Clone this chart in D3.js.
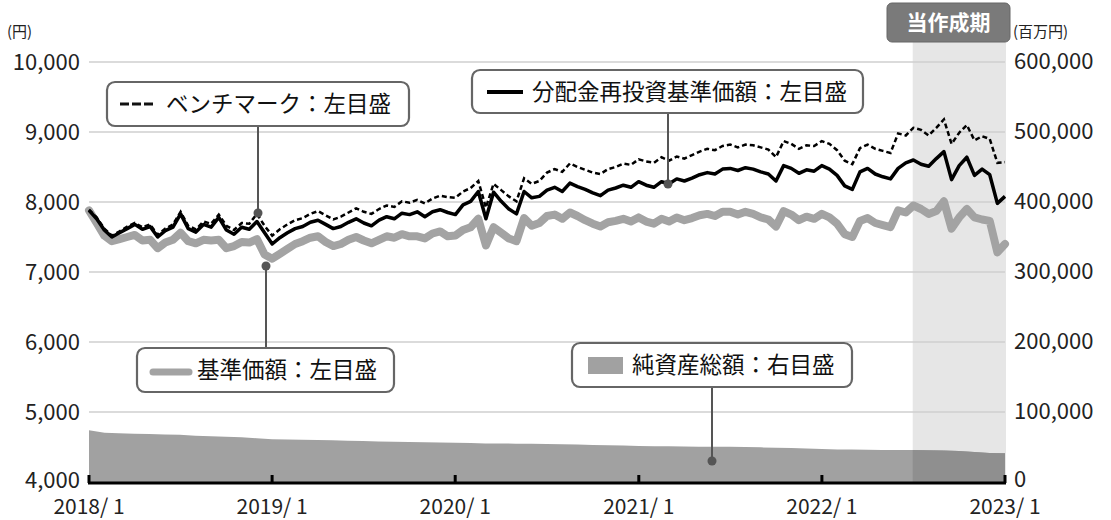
<!DOCTYPE html>
<html><head><meta charset="utf-8">
<script src="https://cdn.jsdelivr.net/npm/d3@7"></script>
<style>
body{margin:0;background:#fff;}
text{font-family:"Noto Sans CJK JP","Noto Sans",sans-serif;}
</style></head><body>
<svg id="c" width="1111" height="520"></svg>
<script>
// ---- data (semi-monthly points, 2018/1 .. 2023/1) ----
const navReinvested = [
7880,7760,7600,7500,7560,7620,7680,7610,7650,7500,7590,7640,7830,7620,7570,7680,7640,7780,7600,7540,7640,7610,7720,7560,7400,
7490,7560,7620,7650,7710,7740,7680,7620,7650,7710,7760,7700,7660,7740,7790,7760,7840,7820,7860,7790,7860,7890,7850,7820,
7960,8010,8150,7760,8140,8010,7900,7830,8150,8060,8080,8170,8210,8150,8270,8220,8180,8130,8090,8170,8200,8240,8210,8290,
8240,8210,8290,8260,8330,8300,8340,8390,8420,8400,8470,8480,8450,8490,8470,8430,8400,8300,8520,8480,8410,8460,8440,8520,
8470,8380,8230,8180,8430,8480,8400,8360,8330,8480,8560,8600,8540,8510,8620,8720,8320,8520,8640,8380,8470,8390,7980,8080];
const benchmark = [
7890,7780,7620,7520,7580,7650,7700,7640,7680,7530,7620,7680,7860,7660,7610,7720,7690,7820,7660,7600,7700,7690,7830,7660,7520,
7610,7680,7740,7770,7830,7870,7810,7750,7790,7850,7910,7860,7830,7900,7950,7930,8010,7990,8030,7980,8050,8090,8070,8060,
8150,8200,8300,7920,8260,8170,8080,8010,8340,8260,8300,8420,8470,8430,8550,8500,8460,8420,8400,8470,8500,8550,8530,8610,
8580,8560,8640,8590,8650,8620,8670,8720,8760,8740,8800,8820,8780,8820,8810,8780,8750,8640,8870,8830,8760,8810,8800,8870,
8830,8740,8590,8540,8770,8820,8760,8730,8700,8980,8950,9060,9030,8950,9060,9180,8830,8990,9100,8880,8940,8900,8560,8570];
const nav = [
7880,7700,7520,7440,7470,7500,7530,7450,7460,7340,7420,7460,7560,7440,7410,7460,7450,7460,7340,7370,7430,7420,7470,7250,7190,
7260,7330,7400,7440,7490,7510,7430,7370,7400,7460,7500,7450,7410,7460,7510,7490,7540,7510,7510,7480,7550,7580,7510,7520,
7600,7640,7760,7380,7640,7560,7480,7440,7770,7660,7700,7800,7820,7760,7850,7800,7740,7690,7650,7710,7730,7760,7720,7780,
7720,7690,7760,7720,7780,7740,7770,7810,7830,7800,7860,7860,7820,7860,7830,7780,7750,7650,7870,7820,7740,7790,7760,7830,
7780,7690,7540,7500,7730,7770,7700,7670,7640,7880,7850,7950,7900,7830,7870,8010,7620,7780,7900,7780,7750,7730,7280,7400];
// monthly net assets (百万円), 2018/1 .. 2023/1
const netAssets = [
74000,70500,69500,68800,68500,68000,67500,66000,65500,64500,63800,62500,
61000,60800,60300,60000,59500,59000,58500,58000,57600,57200,56800,56300,
56000,55700,55000,55000,54800,54600,54300,54000,53500,53000,52500,52000,
51500,51200,51000,50800,50500,50500,50300,50000,49500,49000,48500,47800,
47000,46600,46300,46000,45800,45800,45700,45500,45000,44300,43000,41500,41000];
const leftTicks = [4000,5000,6000,7000,8000,9000,10000];
const rightTicks = [0,100000,200000,300000,400000,500000,600000];
const xTickDates = ["2018-01-01","2019-01-01","2020-01-01","2021-01-01","2022-01-01","2023-01-01"];
const xTickLabels = ["2018/ 1","2019/ 1","2020/ 1","2021/ 1","2022/ 1","2023/ 1"];
const periodStart = "2022-07-01";
const periodLabel = "当作成期";

const svg = d3.select("#c");
const L = 89, R = 1005, T = 62, B = 482;
const t0 = new Date(2018,0,1), t1 = new Date(2023,0,1);
const x = d3.scaleTime().domain([t0,t1]).range([L,R]);
const yL = d3.scaleLinear().domain([4000,10000]).range([B,T]);
const yR = d3.scaleLinear().domain([0,600000]).range([B,T]);
const n = navReinvested.length;
const dateAt = i => new Date(t0.getTime() + (t1-t0)*i/(n-1));
const monthAt = i => d3.timeMonth.offset(t0,i);
const pd = s => d3.timeParse("%Y-%m-%d")(s);

// shaded period
const xs = x(pd(periodStart));
svg.append("rect").attr("x",xs).attr("y",42).attr("width",R-xs+1).attr("height",B-42).attr("fill","#e6e6e6");

// gridlines
svg.append("g").selectAll("line").data(leftTicks.slice(1)).join("line")
  .attr("x1",L).attr("x2",R).attr("y1",d=>yL(d)).attr("y2",d=>yL(d))
  .attr("stroke","#cfcfcf").attr("stroke-width",1.3);

// area
const area = d3.area().x((d,i)=>x(monthAt(i))).y0(yR(0)).y1(d=>yR(d));
svg.append("path").attr("d",area(netAssets)).attr("fill","#a1a1a1");
svg.append("clipPath").attr("id","pc").append("rect").attr("x",xs).attr("y",T).attr("width",R-xs+2).attr("height",B-T);
svg.append("path").attr("d",area(netAssets)).attr("fill","#8f8f8f").attr("clip-path","url(#pc)");

// lines
const line = ys => d3.line().x((d,i)=>x(dateAt(i))).y(d=>ys(d)).curve(d3.curveLinear);
svg.append("path").attr("d",line(yL)(nav)).attr("fill","none").attr("stroke","#a3a3a3").attr("stroke-width",8).attr("stroke-linejoin","round").attr("stroke-linecap","round");
svg.append("path").attr("d",line(yL)(navReinvested)).attr("fill","none").attr("stroke","#000").attr("stroke-width",3.5).attr("stroke-linejoin","round");
svg.append("path").attr("d",line(yL)(benchmark)).attr("fill","none").attr("stroke","#000").attr("stroke-width",2.5).attr("stroke-dasharray","5,3");

// axes
const axL = svg.append("g");
axL.selectAll("text").data(leftTicks).join("text")
  .attr("x",80).attr("y",d=>yL(d)+(d===4000?6:8)).attr("text-anchor","end").attr("font-size",22).attr("fill","#222")
  .text(d=>d3.format(",")(d));
const axR = svg.append("g");
axR.selectAll("text").data(rightTicks).join("text")
  .attr("x",1014).attr("y",d=>yR(d)+(d===0?5:7)).attr("text-anchor","start").attr("font-size",22).attr("fill","#222")
  .text(d=>d3.format(",")(d));
svg.append("text").attr("x",7).attr("y",37).attr("font-size",15).attr("fill","#222").text("(円)");
svg.append("text").attr("x",1013).attr("y",37).attr("font-size",15).attr("fill","#222").text("(百万円)");

const xg = svg.append("g");
xg.append("line").attr("x1",L-1).attr("x2",R+1).attr("y1",B+1).attr("y2",B+1).attr("stroke","#000").attr("stroke-width",3);
xg.selectAll("line.t").data(xTickDates).join("line").attr("class","t")
  .attr("x1",d=>x(pd(d))).attr("x2",d=>x(pd(d))).attr("y1",B-7).attr("y2",B+1).attr("stroke","#000").attr("stroke-width",3);
xg.selectAll("text").data(xTickLabels).join("text")
  .attr("x",(d,i)=>x(pd(xTickDates[i]))).attr("y",514).attr("text-anchor","middle").attr("font-size",21).attr("fill","#222").text(d=>d);

// period label
svg.append("rect").attr("x",887).attr("y",3).attr("width",123).attr("height",39).attr("rx",5).attr("fill","#7a7a7a").attr("stroke","#666");
svg.append("text").attr("x",948.5).attr("y",30).attr("text-anchor","middle").attr("font-size",21).attr("font-weight","bold").attr("fill","#fff").text(periodLabel);

// legends
const lg = svg.append("g");
function box(x0,y0,w,h){ lg.append("rect").attr("x",x0).attr("y",y0).attr("width",w).attr("height",h).attr("rx",8).attr("fill","#fff").attr("stroke","#666").attr("stroke-width",2.2); }
function leader(xx,y1,y2){
  lg.append("line").attr("x1",xx).attr("x2",xx).attr("y1",y1).attr("y2",y2).attr("stroke","#555").attr("stroke-width",2);
  lg.append("circle").attr("cx",xx).attr("cy",y2).attr("r",4.5).attr("fill","#555");
}
// benchmark
leader(258,126,213);
box(107,82,302,44);
lg.append("line").attr("x1",120).attr("x2",153).attr("y1",104).attr("y2",104).attr("stroke","#111").attr("stroke-width",3).attr("stroke-dasharray","9,3");
lg.append("text").attr("x",166).attr("y",112).attr("font-size",22.5).attr("fill","#111").text("ベンチマーク：左目盛");
// reinvested
leader(668,113,184);
box(472,70,391,43);
lg.append("line").attr("x1",487).attr("x2",523).attr("y1",92).attr("y2",92).attr("stroke","#000").attr("stroke-width",4);
lg.append("text").attr("x",532).attr("y",100).attr("font-size",22.5).attr("fill","#111").text("分配金再投資基準価額：左目盛");
// nav
leader(266,348,266);
box(137,348,257,44);
lg.append("line").attr("x1",153).attr("x2",189).attr("y1",372).attr("y2",372).attr("stroke","#a3a3a3").attr("stroke-width",7).attr("stroke-linecap","round");
lg.append("text").attr("x",197).attr("y",378).attr("font-size",22.5).attr("fill","#111").text("基準価額：左目盛");
// net assets
leader(712,387,461);
box(572,343,280,44);
lg.append("rect").attr("x",588).attr("y",357).attr("width",35).attr("height",17).attr("fill","#a1a1a1");
lg.append("text").attr("x",632).attr("y",373).attr("font-size",22.5).attr("fill","#111").text("純資産総額：右目盛");
</script></body></html>
